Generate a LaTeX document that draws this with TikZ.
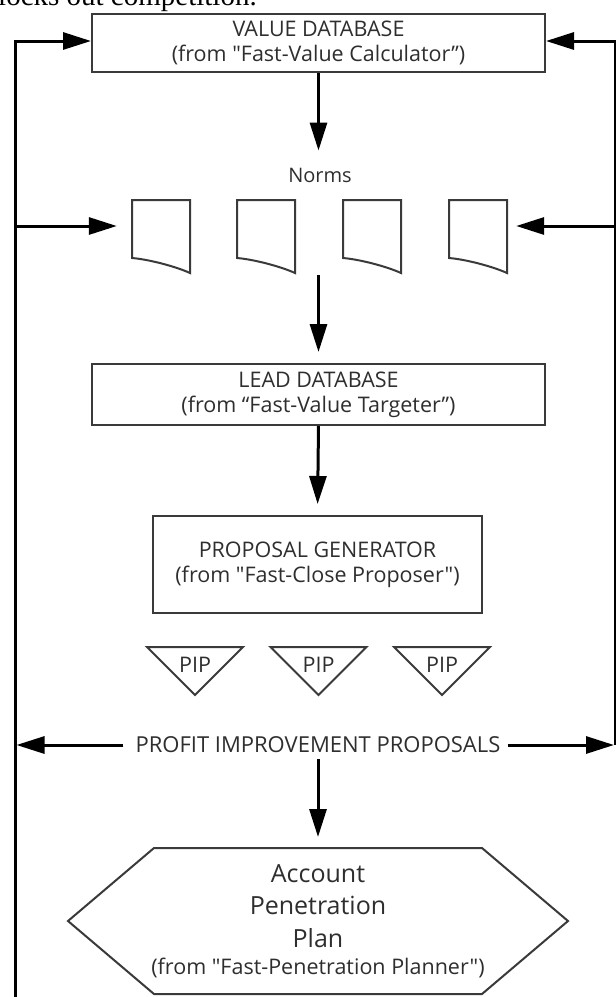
\documentclass[tikz,border=0pt]{standalone}
\usepackage{fontspec}
\setmainfont{Open Sans}[Ligatures=TeXOff]
\newfontfamily\serifface{Liberation Serif}
\usetikzlibrary{arrows.meta,calc}
\definecolor{ink}{HTML}{2E2E2E}
\definecolor{edge}{HTML}{3A3A3A}

\begin{document}
\begin{tikzpicture}[x=1pt,y=-1pt,
  arr/.style={line width=3pt, black, line join=miter, -{Triangle[length=28pt,width=17pt]}},
  box/.style={draw=edge, line width=2pt, inner sep=0pt, align=center, text=ink},
  outline/.style={draw=edge, line width=2pt, line join=miter},
  lbl/.style={text=ink, inner sep=0pt, align=center},
  boxfont/.style={font=\fontsize{21.5}{25}\selectfont},
]
\useasboundingbox (0,0) rectangle (616,997);
\clip (0,0) rectangle (616,997);

% running text of the page above the figure
\node[anchor=base west, inner sep=0pt, font=\serifface\fontsize{29}{29}\selectfont] (prev) at (-2,5) {locks out competition.};

% databases and generator
\node[box, boxfont, minimum width=453pt, minimum height=58pt] (vdb) at (318.5,43)
  {VALUE DATABASE\\(from "Fast-Value Calculator”)};
\node[lbl, anchor=base, font=\fontsize{20}{22}\selectfont] (norms) at (320,182) {Norms};

\foreach \x/\n in {132/d1,237/d2,343/d3,449/d4}{
  \node[inner sep=0pt, minimum width=58pt, minimum height=73pt] (\n) at (\x+29,236.5) {};
  \draw[outline] (\x,200) -- (\x+58,200) -- (\x+58,273)
    .. controls (\x+45,267) and (\x+18,259.5) .. (\x,258) -- cycle;
}

\node[box, boxfont, minimum width=453pt, minimum height=61pt] (ldb) at (318.5,394.5)
  {LEAD DATABASE\\(from “Fast-Value Targeter”)};
\node[box, boxfont, minimum width=329pt, minimum height=97pt] (pg) at (317.5,564.5)
  {PROPOSAL GENERATOR\\(from "Fast-Close Proposer")};

% profit improvement proposals
\foreach \c/\n in {195/p1,318.5/p2,442/p3}{
  \draw[outline] (\c-48,647) -- (\c+48,647) -- (\c,695) -- cycle;
  \node[lbl, anchor=base, font=\fontsize{21.5}{21.5}\selectfont] (\n) at (\c,672) {PIP};
}
\node[lbl, font=\fontsize{22}{22}\selectfont] (pip) at (318,745) {PROFIT IMPROVEMENT PROPOSALS};

% account penetration plan
\draw[outline] (68,921) -- (154,848) -- (482,848) -- (568,921) -- (482,994) -- (154,994) -- cycle;
\coordinate (hextop) at (318,848);
\node[lbl, font=\fontsize{25}{32.5}\selectfont] (plan) at (318,921)
  {Account\\Penetration\\Plan\\[-5.5pt]{\fontsize{21.5}{22}\selectfont(from "Fast-Penetration Planner")}};

% feedback loops
\coordinate (ltop) at (15,41);
\coordinate (lbot) at (15,1000);
\coordinate (lmid) at (15,226);
\coordinate (rtop) at (615,41);
\coordinate (rbot) at (615,745);
\coordinate (rmid) at (615,226);
\coordinate (dmid) at (318.5,275);

\draw[arr] (lbot) -- (ltop) -- (vdb.west |- ltop);
\draw[arr] (rbot) -- (rtop) -- (vdb.east |- rtop);
\draw[arr, shorten >=15pt] (lmid) -- (d1.west |- lmid);
\draw[arr, shorten >=9pt] (rmid) -- (d4.east |- rmid);

% main flow
\draw[arr, shorten >=17pt] (vdb.south) -- (vdb.south |- norms.north);
\draw[arr, shorten >=11pt] (dmid) -- (ldb.north);
\draw[arr, shorten >=11pt] (ldb.south) -- (pg.north);
\draw[arr, shorten <=12pt, shorten >=1.5pt] (pip.west) -- (lbot |- pip);
\draw[arr, shorten <=7pt, shorten >=1pt] (pip.east) -- (rbot |- pip);
\draw[arr, shorten <=6pt, shorten >=11pt] (pip.south) -- (hextop);
\end{tikzpicture}
\end{document}
